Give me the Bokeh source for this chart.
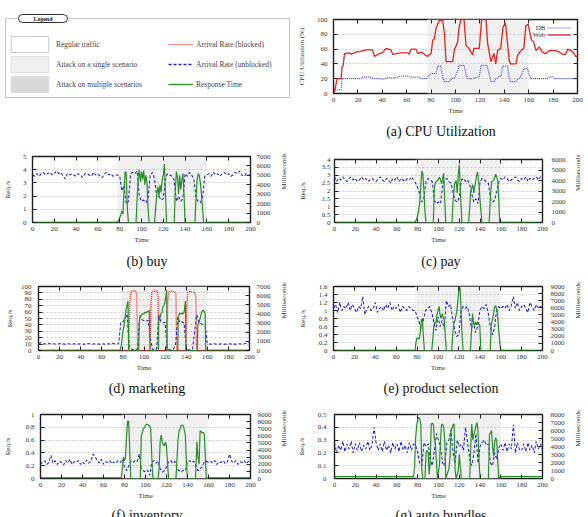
import math
from bokeh.plotting import figure
from bokeh.models import (Range1d, LinearAxis, FixedTicker, Grid, BoxAnnotation, Label,
                          Legend, LegendItem, CustomJSTickFormatter, Div)
from bokeh.layouts import column, row
from bokeh.embed import file_html
from bokeh.resources import INLINE

# ---------------- data ----------------
x_ticks = [0, 20, 40, 60, 80, 100, 120, 140, 160, 180, 200]
attack_window = [78, 160]
cpu_attack_window = [77, 160]
t_grid = list(range(0, 201, 2))

cpu_ticks = [0, 20, 40, 60, 80, 100]
cpu_web = [(0, 0), (1.4, 7), (3, 20), (6.3, 20), (7, 36), (8, 38), (9, 54), (13, 55), (14.5, 53),
           (18.5, 56), (22, 57), (27, 59), (32, 59), (33.5, 50), (37.6, 54), (40, 55), (43, 61),
           (47, 59), (48.6, 53), (55, 55), (61, 55), (62, 53), (63.5, 60), (67.7, 60), (69, 54),
           (72, 56), (74.5, 53), (77, 50), (80, 54), (81.3, 72), (82.7, 74), (84, 88), (86.8, 99),
           (89.5, 99), (91, 80), (92.2, 43), (97.7, 43), (99, 58), (101.8, 70), (103, 90),
           (104.5, 100), (107, 100), (108.6, 65), (111, 61), (114, 52), (115, 61), (119.5, 61),
           (121.4, 100), (125, 100), (126.3, 68), (129, 43), (131.5, 54), (133, 40), (134.5, 58),
           (137, 61), (139, 90), (141, 95), (144, 45), (145, 40), (149.5, 40), (151, 52),
           (153.6, 58), (156, 61), (157.7, 92), (159.6, 93), (162.3, 72), (164, 70), (166, 58),
           (168.6, 63), (171.3, 56), (174, 54), (177, 58), (182, 58), (185, 56), (187.7, 53),
           (190.4, 53), (191.8, 60), (194.5, 58), (196.7, 55), (198.6, 50), (200, 50)]
cpu_db = [(0, 0), (1.4, 5), (6.3, 5), (7, 20), (22.6, 20), (24, 22.5), (29.5, 22.5), (31, 21),
          (33.5, 20), (39, 20), (41, 19), (44.5, 21.5), (50, 21), (55, 23.4), (61, 23.4), (63, 22),
          (70, 22), (72, 20), (76, 20), (78.6, 25), (80, 27), (84, 27), (85.4, 37), (88, 37),
          (89.5, 21.6), (91, 16), (95, 16), (96.5, 20), (99, 21), (101.8, 30.6), (103, 38),
          (107, 38), (108.6, 27), (110, 20), (114, 20), (116, 21.5), (119.5, 23), (121, 38),
          (125.8, 38), (127.2, 29), (129, 16), (131.8, 16), (133.2, 20), (136, 23.4),
          (137.5, 23.4), (138.6, 37), (142.7, 37), (144, 21.6), (145, 16), (149.5, 16), (151, 19),
          (153, 21.6), (156.3, 34), (159, 34), (160.3, 25), (162, 20), (175.4, 20), (177, 22.5),
          (179.5, 22.5), (181, 20), (200, 20)]

# (b) buy
buy_ticks = [0, 1, 2, 3, 4, 5]
buy_ms_ticks = [0, 1000, 2000, 3000, 4000, 5000, 6000, 7000]
buy_unblocked = [3.6, 3.5, 3.7, 3.5, 3.7, 3.8, 3.6, 3.7, 3.8, 3.6, 3.7, 3.9, 3.7, 3.8, 3.5, 3.3,
                 3.7, 3.6, 3.7, 3.6, 3.5, 3.7, 3.6, 3.4, 3.7, 3.7, 3.6, 3.5, 3.8, 3.6, 3.7, 3.5,
                 3.4, 3.7, 3.8, 3.6, 3.7, 3.5, 3.6,
                 3.6, 3.5, 2.4, 2.8, 1.4, 1.6, 3.7, 3.8, 3.7, 3.9, 2.0, 1.6, 1.7, 1.5, 1.8, 3.6,
                 3.8, 3.3, 1.9, 2.0, 1.7, 1.8, 3.4, 3.7, 3.6, 3.5, 3.2, 1.6, 2.0, 1.6, 1.8, 3.7,
                 3.5, 3.8, 3.6, 3.3, 1.9, 1.6, 1.5, 1.9, 3.5, 3.6,
                 3.7, 3.5, 3.8, 3.6, 3.7, 3.5, 3.7, 3.8, 3.6, 3.7, 3.5, 3.6, 3.8, 3.7, 3.9, 3.6,
                 3.5, 3.7, 3.6, 3.6]
buy_response = [(0, 0), (77, 0), (79, 200), (81, 800), (82, 1200), (83, 900), (84, 3500),
                (85, 5400), (86, 5300), (87, 1500), (88, 0), (95, 0), (96, 2500), (97, 4800),
                (98, 5600), (99, 4300), (100, 5400), (101, 4600), (102, 5500), (103, 4000),
                (104, 5000), (105, 4200), (106, 1500), (107, 0), (112, 0), (113, 1500),
                (114, 3000), (115, 3800), (116, 2800), (117, 4000), (118, 3200), (119, 4500),
                (120, 5000), (121, 6200), (122, 3000), (123, 0), (130, 0), (131, 3500),
                (132, 5400), (133, 4800), (134, 3000), (135, 5000), (136, 3500), (137, 4500),
                (138, 5200), (139, 3000), (140, 0), (149, 0), (150, 2500), (151, 4500),
                (152, 5200), (153, 5000), (154, 4200), (155, 3000), (156, 1500), (157, 0), (200, 0)]

# (c) pay
pay_ticks = [0, 0.5, 1, 1.5, 2, 2.5, 3, 3.5, 4]
pay_ms_ticks = [0, 1000, 2000, 3000, 4000, 5000, 6000]
pay_unblocked = [2.9, 2.6, 2.8, 2.7, 2.9, 2.7, 2.6, 2.8, 2.9, 2.7, 2.8, 2.6, 2.7, 2.9, 2.7, 2.8,
                 2.6, 2.7, 2.8, 2.7, 2.6, 2.8, 2.9, 2.7, 2.6, 2.8, 2.7, 2.5, 2.8, 2.7, 2.9, 2.6,
                 2.8, 2.7, 2.6, 2.8, 2.7, 2.9, 2.7,
                 2.5, 2.2, 1.8, 1.3, 1.5, 2.6, 2.8, 2.7, 2.6, 1.4, 1.2, 1.3, 1.2, 2.4, 2.7, 2.8,
                 2.6, 2.5, 1.9, 1.4, 1.3, 1.6, 2.7, 2.8, 2.6, 2.7, 2.4, 1.8, 1.3, 1.5, 1.2, 2.6,
                 2.8, 2.7, 2.6, 2.5, 1.5, 1.3, 1.4, 2.0, 2.6, 2.8,
                 2.7, 2.9, 2.8, 2.6, 2.7, 2.8, 2.9, 2.7, 2.6, 2.8, 2.7, 2.9, 2.6, 2.8, 2.7, 2.8,
                 2.9, 2.7, 2.9, 2.8]
pay_response = [(0, 0), (77, 0), (79, 300), (80.7, 1000), (82, 2000), (83, 3500), (84, 4900),
                (85, 4600), (86, 3000), (87, 1000), (88, 0), (95, 0), (96, 3200), (97, 3800),
                (99, 4000), (101, 4300), (103, 3700), (104, 4200), (105, 4700), (106, 2000),
                (107, 0), (113, 0), (114, 2000), (115.5, 3700), (117, 4000), (118, 2800),
                (119, 4500), (120, 5500), (121, 3000), (122.5, 0), (129, 0), (130, 1500),
                (131, 3000), (133, 3600), (134, 2800), (135, 3500), (136.7, 4500), (137.5, 4800),
                (139, 3600), (140, 2000), (141.8, 0), (148.7, 0), (150, 2500), (151, 3900),
                (153, 4000), (155, 4600), (156, 4300), (157, 4000), (158, 2000), (158.9, 0),
                (200, 0)]

# (d) marketing
mkt_ticks = [0, 10, 20, 30, 40, 50, 60, 70, 80, 90, 100]
mkt_ms_ticks = [0, 1000, 2000, 3000, 4000, 5000, 6000, 7000]
mkt_blocked = [(0, 0), (85.5, 0), (86.3, 60), (87, 88), (88, 93), (92, 93), (93, 91), (93.5, 50),
               (94, 0), (105.8, 0), (106.5, 70), (107.5, 92), (108.5, 93), (112.5, 93),
               (113.3, 85), (113.8, 0), (121.8, 0), (122.5, 75), (123.5, 92), (124.5, 93),
               (129, 92), (130.3, 88), (131, 0), (139.7, 0), (140.5, 70), (141.5, 91),
               (142.5, 92), (148, 91), (149.2, 85), (149.8, 0), (200, 0)]
mkt_unblocked = [11, 12, 10, 10.5, 10, 11, 10, 10.5, 10, 10, 10.5, 11, 10, 10, 10.5, 10, 10, 10.5,
                 10, 10, 10.5, 10, 10, 11, 10.5, 10, 10, 10.5, 10, 10, 10.5, 10, 10, 10.5, 10, 11,
                 10.5, 10, 10.5,
                 44, 45, 50, 57, 5, 2, 1, 1, 3, 55, 48, 47, 46, 47, 20, 2, 1, 2, 56, 45, 43, 44,
                 3, 1, 1, 2, 10, 52, 44, 45, 43, 5, 1, 1, 2, 30, 56, 43, 42, 40, 39, 11,
                 10, 10, 10.5, 10, 10, 10, 10.5, 10, 10, 10, 10.5, 10, 10, 10, 10.5, 10, 10, 11,
                 12, 14]
mkt_response = [(0, 0), (77, 0), (78, 300), (79, 1000), (80, 2200), (81, 2600), (82, 3600),
                (83, 4500), (84, 5000), (84.8, 5400), (85.5, 0), (95, 0), (95.5, 3000),
                (96, 3600), (98, 4000), (100, 4000), (101, 4200), (102, 4100), (103, 4300),
                (104, 4200), (105, 4400), (105.8, 0), (113.5, 0), (114, 3200), (115, 3500),
                (116, 4000), (117, 4200), (118, 4800), (119, 5000), (120, 5300), (121.5, 6600),
                (121.8, 0), (132, 0), (132.5, 3500), (133, 3900), (134, 4100), (135, 4000),
                (136, 4100), (137, 4000), (138, 4200), (139.3, 5400), (139.7, 0), (150.5, 0),
                (151, 2800), (152, 3000), (153, 3400), (154, 3900), (155, 4300), (156, 4400),
                (157, 4300), (158, 4000), (158.5, 0), (200, 0)]

# (e) product selection
prod_ticks = [0, 0.2, 0.4, 0.6, 0.8, 1, 1.2, 1.4, 1.6]
prod_ms_ticks = [0, 1000, 2000, 3000, 4000, 5000, 6000, 7000, 8000, 9000]
prod_unblocked = [1.05, 1.15, 0.95, 1.2, 1.0, 1.1, 1.05, 1.2, 1.0, 1.15, 1.05, 0.95, 1.1, 1.05,
                  1.35, 0.9, 1.05, 1.1, 1.0, 1.05, 1.2, 0.95, 1.05, 1.1, 1.0, 1.15, 1.05, 1.2,
                  1.0, 1.1, 1.05, 1.15, 0.95, 1.1, 1.05, 1.0, 1.1, 1.05, 1.0,
                  1.0, 0.85, 0.7, 0.55, 0.75, 1.0, 1.05, 1.1, 0.95, 0.7, 0.5, 0.85, 0.6, 0.75,
                  0.55, 1.25, 1.1, 1.15, 0.8, 0.5, 0.35, 0.4, 1.0, 1.1, 1.05, 1.1, 0.9, 0.55, 0.7,
                  0.45, 0.6, 1.0, 1.1, 1.05, 1.15, 0.95, 0.6, 0.4, 0.55, 1.0, 1.1, 1.05,
                  1.1, 1.05, 1.15, 1.0, 1.1, 1.35, 1.05, 1.2, 1.0, 1.1, 1.15, 1.05, 0.95, 1.2,
                  1.1, 1.0, 1.15, 1.05, 1.1, 1.05]
prod_response = [(0, 0), (78, 0), (79, 1200), (80, 1800), (81, 1700), (82, 1600), (83, 2500),
                 (84, 4300), (85, 4500), (86, 2000), (87, 0), (94, 0), (95, 1500), (96, 3500),
                 (97, 4000), (98, 3800), (99, 5000), (100, 5600), (101, 6200), (102, 5000),
                 (103, 4500), (104, 5200), (105, 4600), (106, 4300), (107, 2000), (108, 0),
                 (113, 0), (114, 2000), (115, 3800), (116, 4000), (117, 4800), (118, 5500),
                 (119, 7000), (120, 8500), (121, 9000), (122, 6000), (123, 2000), (124, 0),
                 (131, 0), (132, 2500), (133, 5200), (134, 4000), (135, 3500), (136, 4000),
                 (137, 3600), (138, 4000), (139, 3800), (140, 3500), (141, 0), (150, 0),
                 (151, 3800), (152, 4200), (153, 5000), (154, 6000), (155, 6300), (156, 6000),
                 (157, 5000), (158, 3000), (159, 1500), (160, 0), (200, 0)]

# (f) inventory
inv_ticks = [0, 0.2, 0.4, 0.6, 0.8, 1]
inv_ms_ticks = [0, 1000, 2000, 3000, 4000, 5000, 6000, 7000, 8000, 9000]
inv_unblocked = [0.22, 0.26, 0.28, 0.22, 0.25, 0.36, 0.24, 0.28, 0.22, 0.27, 0.25, 0.21, 0.28,
                 0.24, 0.3, 0.22, 0.26, 0.25, 0.28, 0.22, 0.26, 0.23, 0.29, 0.24, 0.27, 0.38,
                 0.34, 0.28, 0.24, 0.3, 0.22, 0.26, 0.25, 0.28, 0.23, 0.26, 0.24, 0.28, 0.25,
                 0.3, 0.18, 0.12, 0.2, 0.27, 0.25, 0.28, 0.26, 0.38, 0.15, 0.12, 0.1, 0.13, 0.05,
                 0.25, 0.28, 0.24, 0.27, 0.15, 0.1, 0.12, 0.18, 0.26, 0.28, 0.24, 0.27, 0.15,
                 0.12, 0.1, 0.13, 0.12, 0.26, 0.28, 0.25, 0.27, 0.2, 0.12, 0.15, 0.18, 0.26,
                 0.27, 0.25,
                 0.27, 0.24, 0.28, 0.22, 0.26, 0.25, 0.28, 0.23, 0.26, 0.38, 0.27, 0.24, 0.28,
                 0.22, 0.26, 0.25, 0.28, 0.23, 0.27, 0.25]
inv_response = [(0, 100), (77, 100), (78, 1500), (79, 3000), (80, 2500), (81, 3000), (82, 6000),
                (83, 8100), (84, 8000), (85, 4000), (86, 0), (95, 0), (96, 6000), (97, 6500),
                (98, 7000), (99, 7200), (100, 7500), (101, 7600), (102, 7600), (103, 7500),
                (104, 7400), (105, 7000), (106, 3000), (107, 0), (112, 0), (113, 1500),
                (114, 5300), (115, 6100), (116, 5100), (117, 4800), (118, 4600), (119, 5100),
                (120, 4500), (121, 2000), (122, 0), (129, 0), (131, 5500), (132, 6700),
                (133, 7000), (134, 7400), (135, 7550), (136, 7400), (137, 6800), (138, 6000),
                (139, 2000), (140, 0), (147.6, 0), (149, 5200), (150, 3000), (151, 2000),
                (152, 6700), (153, 6600), (154, 6400), (155, 6500), (156, 6200), (157, 3000),
                (158, 0), (160, 100), (200, 100)]

# (g) auto bundles
auto_ticks = [0, 0.1, 0.2, 0.3, 0.4, 0.5]
auto_ms_ticks = [0, 1000, 2000, 3000, 4000, 5000, 6000, 7000, 8000]
auto_unblocked = [0.28, 0.2, 0.26, 0.22, 0.29, 0.21, 0.27, 0.23, 0.29, 0.2, 0.27, 0.22, 0.28,
                  0.21, 0.26, 0.23, 0.29, 0.22, 0.26, 0.4, 0.28, 0.22, 0.27, 0.21, 0.29, 0.22,
                  0.26, 0.2, 0.28, 0.23, 0.27, 0.21, 0.29, 0.22, 0.26, 0.2, 0.28, 0.22, 0.27,
                  0.26, 0.2, 0.12, 0.1, 0.28, 0.25, 0.27, 0.15, 0.1, 0.22, 0.35, 0.3, 0.24, 0.12,
                  0.1, 0.28, 0.3, 0.38, 0.2, 0.12, 0.3, 0.25, 0.27, 0.22, 0.4, 0.28, 0.15, 0.1,
                  0.2, 0.35, 0.12, 0.25, 0.28, 0.3, 0.26, 0.27, 0.12, 0.1, 0.2, 0.15, 0.24, 0.27,
                  0.22, 0.28, 0.21, 0.27, 0.23, 0.42, 0.2, 0.28, 0.22, 0.22, 0.27, 0.21, 0.28,
                  0.22, 0.26, 0.2, 0.29, 0.23, 0.27, 0.22]
auto_response = [(0, 250), (76, 250), (77, 1500), (78, 5100), (79, 6500), (80, 7400), (81, 7650),
                 (82, 7400), (83, 6800), (84, 1000), (85, 0), (87, 0), (88, 3300), (89, 3500),
                 (90, 3300), (91, 500), (92, 2000), (93, 6800), (94, 6900), (95, 6800),
                 (96, 5000), (97, 4500), (98, 2000), (99, 0), (101, 1800), (102, 5000),
                 (103, 6800), (104, 6700), (105, 6500), (106, 4700), (107, 0), (110, 1200),
                 (111, 2500), (112, 6000), (113, 6300), (114, 6700), (115, 6800), (116, 1000),
                 (117, 0), (119, 1000), (120, 3000), (121, 1500), (122, 0), (130, 0),
                 (131, 4000), (132, 6800), (133, 4800), (134, 5500), (135, 6000), (136, 6600),
                 (137, 7000), (138, 6000), (139, 2000), (140, 0), (148, 0), (149, 5500),
                 (150, 5700), (151, 6000), (152, 4000), (153, 2800), (154, 4500), (155, 5100),
                 (156, 4700), (157, 2000), (158, 0), (160, 250), (200, 250)]

legend_boxes = ["Regular traffic", "Attack on a single scenario", "Attack on multiple scenarios"]
legend_lines = ["Arrival Rate (blocked)", "Arrival Rate (unblocked)", "Response Time"]

# ---------------- style ----------------
FONT = "Liberation Serif"
BLUE = "#2222d4"
DBBLUE = "#4a4af0"
RED = "#e8201c"
REDDOT = "#ff1a1a"
GREEN = "#258f25"
SHADE = "#f0f0f0"
TXT = "#333333"
FMT = "return String(Math.round(tick*1000)/1000);"


def unzip(pairs):
    return [a for a, _ in pairs], [b for _, b in pairs]


def style_axis(ax, standoff, lab_standoff=3, labels=True):
    ax.axis_line_color = None
    ax.major_tick_in = 4
    ax.major_tick_out = 0
    ax.minor_tick_in = 0
    ax.minor_tick_out = 0
    ax.major_tick_line_color = "#222222"
    ax.major_label_text_font = FONT
    ax.major_label_text_font_size = "7px"
    ax.major_label_text_color = TXT if labels else None
    ax.major_label_standoff = standoff
    ax.axis_label_text_font = FONT
    ax.axis_label_text_font_size = "7px"
    ax.axis_label_text_font_style = "normal"
    ax.axis_label_text_color = TXT
    ax.axis_label_standoff = lab_standoff
    ax.formatter = CustomJSTickFormatter(code=FMT)


def base(height, left, right, top, bottom, ymax, window):
    p = figure(width=294, height=height, x_range=Range1d(0, 200), y_range=Range1d(0, ymax),
               x_axis_type=None, y_axis_type=None, output_backend="svg",
               toolbar_location=None, tools="",
               min_border_left=left, min_border_right=right,
               min_border_top=top, min_border_bottom=bottom)
    p.outline_line_color = "#1e1e1e"
    p.outline_line_width = 1.4
    p.background_fill_color = "white"
    p.border_fill_color = "white"
    p.add_layout(BoxAnnotation(left=window[0], right=window[1], fill_color=SHADE,
                               fill_alpha=1, line_color=None, level="underlay"))
    xb = LinearAxis(ticker=FixedTicker(ticks=x_ticks), axis_label="Time")
    style_axis(xb, 4, 2)
    p.add_layout(xb, "below")
    xt = LinearAxis(ticker=FixedTicker(ticks=x_ticks))
    style_axis(xt, 0, 0, labels=False)
    p.add_layout(xt, "above")
    return p


def caption(text, h, lh):
    return Div(text=text, width=294, height=h, margin=0,
               styles={"font-family": FONT, "font-size": "14px", "color": "#111111",
                       "text-align": "center", "line-height": f"{lh}px",
                       "overflow": "hidden", "white-space": "nowrap"})


def panel(cfg):
    (height, left, right, top, bottom, ymax, yticks, msmax, msticks, ls, lls, rs, rls,
     blue, green, red) = cfg
    p = base(height, left, right, top, bottom, ymax, attack_window)
    p.add_layout(Grid(dimension=1, ticker=FixedTicker(ticks=yticks[1:-1]),
                      grid_line_color="#b8b8b8", grid_line_dash="2 2", grid_line_width=0.7))
    yl = LinearAxis(ticker=FixedTicker(ticks=yticks), axis_label="Req./s")
    style_axis(yl, ls, lls)
    p.add_layout(yl, "left")
    p.extra_y_ranges = {"ms": Range1d(0, msmax)}
    yr = LinearAxis(y_range_name="ms", ticker=FixedTicker(ticks=msticks),
                    axis_label="Milliseconds")
    style_axis(yr, rs, rls)
    try:
        yr.axis_label_orientation = math.pi / 2
    except Exception:
        pass
    p.add_layout(yr, "right")
    if red is not None:
        rt, rv = unzip(red)
        p.line(rt, rv, line_color=REDDOT, line_width=1.3, line_dash="1 1")
    p.line(t_grid, blue, line_color=BLUE, line_width=1.05, line_dash="3 2")
    gt, gv = unzip(green)
    p.line(gt, gv, y_range_name="ms", line_color=GREEN, line_width=1.2)
    return p


# ---------------- legend panel ----------------
leg = figure(width=294, height=140, x_range=Range1d(0, 294), y_range=Range1d(0, 140),
             x_axis_type=None, y_axis_type=None, output_backend="svg",
             toolbar_location=None, tools="", min_border=0,
             min_border_left=0, min_border_right=0, min_border_top=0, min_border_bottom=0)
leg.outline_line_color = None
leg.background_fill_color = "white"
leg.border_fill_color = "white"
leg.add_layout(BoxAnnotation(left=5, right=289, bottom=43, top=122, fill_alpha=0,
                             line_color="#3a3a3a", line_width=1))

box_styles = [("white", "#c8c8c8"), ("#efefef", "#e2e2e2"), ("#d9d9d9", "#dcdcdc")]
box_items = []
for name, (fc, lc) in zip(legend_boxes, box_styles):
    r = leg.quad(left=[0], right=[0], top=[0], bottom=[0], fill_color=fc, line_color=lc,
                 line_width=1)
    r.visible = False
    box_items.append(LegendItem(label=name, renderers=[r]))
line_styles = [(REDDOT, "1 1", 1.2), (BLUE, "3 2", 1.3), (GREEN, "solid", 1.3)]
line_items = []
for name, (c, d, w) in zip(legend_lines, line_styles):
    r = leg.line(x=[0], y=[0], line_color=c, line_dash=d, line_width=w)
    r.visible = False
    line_items.append(LegendItem(label=name, renderers=[r]))


def mk_legend(items, loc, gw, standoff):
    return Legend(items=items, location=loc, glyph_width=gw, glyph_height=20, label_height=20,
                  label_width=0, spacing=0, padding=0, margin=0, label_standoff=standoff,
                  border_line_color=None, background_fill_alpha=0, inactive_fill_alpha=0,
                  label_text_font=FONT, label_text_font_size="7.5px",
                  label_text_color="#444444")


leg.add_layout(mk_legend(box_items, (6, 46), 47, 3))
leg.add_layout(mk_legend(line_items, (168, 46), 25, 3))
leg.add_layout(Label(x=42.5, y=122, text="Legend",
                     text_align="center", text_baseline="middle", text_font=FONT,
                     text_font_size="6px", text_font_style="bold", text_color="#222222",
                     background_fill_color="white", border_line_color="#333333",
                     border_line_width=1, padding=dict(left=15, right=15, top=1, bottom=1),
                     border_radius=4))

# ---------------- CPU panel ----------------
cpu = base(123, 39, 11, 19, 30, 100, cpu_attack_window)
cpu.add_layout(Grid(dimension=1, ticker=FixedTicker(ticks=cpu_ticks[1:-1]),
                    grid_line_color="#b8b8b8", grid_line_dash="2 2", grid_line_width=0.7))
cl = LinearAxis(ticker=FixedTicker(ticks=cpu_ticks), axis_label="CPU Utilization (%)")
style_axis(cl, 6, 8)
cpu.add_layout(cl, "left")
cr = LinearAxis(ticker=FixedTicker(ticks=cpu_ticks))
style_axis(cr, 0, 0, labels=False)
cpu.add_layout(cr, "right")
dt, dv = unzip(cpu_db)
r_db = cpu.line(dt, dv, line_color=DBBLUE, line_width=1.2, line_dash="1 1")
wt, wv = unzip(cpu_web)
r_web = cpu.line(wt, wv, line_color=RED, line_width=1.3)
cpu.add_layout(Legend(items=[LegendItem(label="", renderers=[r_db]),
                             LegendItem(label="", renderers=[r_web])],
                      location=(214, 55), glyph_width=24, glyph_height=7, label_height=7,
                      label_width=0, label_standoff=0, spacing=0, padding=0, margin=0,
                      label_text_font_size="7px", border_line_color=None,
                      background_fill_alpha=0))
for txt, yy in (("DB", 66), ("Web", 59)):
    cpu.add_layout(Label(x=212, y=yy, x_units="screen", y_units="screen", text=txt,
                         text_align="right", text_baseline="middle", text_font=FONT,
                         text_font_size="7px", text_color=TXT))

# ---------------- request panels ----------------
buy = panel((114, 29, 43, 16, 32, 5, buy_ticks, 7000, buy_ms_ticks, 6, 8, 6, 10,
             buy_unblocked, buy_response, None))
pay = panel((114, 40, 43, 19, 32, 4, pay_ticks, 6000, pay_ms_ticks, 4, 12, 9, 9,
             pay_unblocked, pay_response, None))
mkt = panel((108, 38, 43, 16, 28, 100, mkt_ticks, 7000, mkt_ms_ticks, 7, 4, 7, 10,
             mkt_unblocked, mkt_response, mkt_blocked))
prod = panel((108, 39, 43, 16, 28, 1.6, prod_ticks, 9000, prod_ms_ticks, 6, 9, 8, 10,
              prod_unblocked, prod_response, None))
inv = panel((106, 38, 43, 14, 28, 1, inv_ticks, 9000, inv_ms_ticks, 6, 11, 7, 9,
             inv_unblocked, inv_response, None))
auto = panel((106, 40, 44, 14, 28, 0.5, auto_ticks, 8000, auto_ms_ticks, 8, 9, 8, 10,
              auto_unblocked, auto_response, None))

layout = column(
    row(leg, column(cpu, caption("(a) CPU Utilization", 17, 17))),
    row(column(buy, caption("(b) buy", 16, 16)), column(pay, caption("(c) pay", 16, 16))),
    row(column(mkt, caption("(d) marketing", 22, 22)),
        column(prod, caption("(e) product selection", 22, 22))),
    row(column(inv, caption("(f) inventory", 11, 20)),
        column(auto, caption("(g) auto bundles", 11, 20))),
)
open("out.html", "w").write(file_html(layout, INLINE))
